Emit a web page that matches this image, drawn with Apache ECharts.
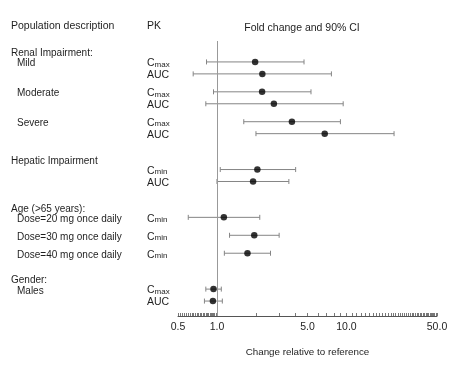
<!DOCTYPE html>
<html>
<head>
<meta charset="utf-8">
<script src="https://cdn.jsdelivr.net/npm/echarts@6/dist/echarts.min.js"></script>
<style>
html,body{margin:0;padding:0;background:#fff;}
#main{width:463px;height:365px;}
</style>
</head>
<body>
<div id="main"></div>
<script>
// ---- data ----
const groupNames = ['Renal Impairment:', 'Hepatic Impairment', 'Age (>65 years):', 'Gender:'];
const rowGroup = [0, 0, 0, 0, 0, 0, 1, 1, 2, 2, 2, 3, 3];
const rowSubject = ['Mild', '', 'Moderate', '', 'Severe', '', '', '', 'Dose=20 mg once daily', 'Dose=30 mg once daily', 'Dose=40 mg once daily', 'Males', ''];
const pkParams = ['Cmax', 'AUC', 'Cmax', 'AUC', 'Cmax', 'AUC', 'Cmin', 'AUC', 'Cmin', 'Cmin', 'Cmin', 'Cmax', 'AUC'];
const estimate = [1.97, 2.24, 2.23, 2.75, 3.79, 6.79, 2.05, 1.90, 1.13, 1.94, 1.72, 0.94, 0.93];
const ciLower = [0.83, 0.655, 0.94, 0.82, 1.61, 2.0, 1.06, 1.0, 0.60, 1.25, 1.14, 0.82, 0.80];
const ciUpper = [4.7, 7.65, 5.32, 9.43, 8.98, 23.3, 4.05, 3.59, 2.14, 3.02, 2.59, 1.08, 1.10];
const tickLabels = [0.5, 1, 5, 10, 50];
const minorTicks = [0.5,0.52,0.54,0.56,0.58,0.6,0.62,0.64,0.66,0.68,0.7,0.72,0.74,0.76,0.78,0.8,0.82,0.84,0.86,0.88,0.9,0.92,0.94,0.96,0.98,1,
  2,3,4,5,6,7,8,9,10,11,12,13,14,15,16,17,18,19,20,21,22,23,24,25,26,27,28,29,30,31,32,33,34,35,36,37,38,39,40,41,42,43,44,45,46,47,48,49,50];
const headers = ['Population description', 'PK', 'Fold change and 90% CI'];
const axisTitle = 'Change relative to reference';
const refValue = 1;

// ---- build slot categories (layout) ----
const cats = [];
const rowCat = [];
let sp = 0;
function spacer(n){ for(let i=0;i<n;i++){ cats.push('s'+(sp++)); } }
spacer(3);
for (let i = 0; i < pkParams.length; i++) {
  if (i > 0) {
    if (rowGroup[i] !== rowGroup[i-1]) spacer(5);
    else if (rowSubject[i] !== '') spacer(2);
    else spacer(1);
  }
  rowCat.push(cats.length);
  cats.push('r' + i);
}
spacer(2);

const TXT = '#1e1e1e';
const FONT = 'Liberation Sans, Arial, Helvetica, sans-serif';

function pkLabel(name){
  if (name.length > 1 && name[0] === 'C') return '{c|C}{s|' + name.slice(1) + '}';
  return '{c|' + name + '}';
}

const chart = echarts.init(document.getElementById('main'), null, {renderer:'canvas'});

const option = {
  animation: false,
  backgroundColor: '#fff',
  textStyle: {fontFamily: FONT, color: TXT},
  grid: {left: 178, right: 26, top: 41, bottom: 49},
  xAxis: {
    type: 'log', logBase: 10, min: 0.5, max: 50,
    axisLine: {show: true, lineStyle: {color: '#555', width: 1}},
    axisTick: {show: true, inside: true, length: 3, customValues: minorTicks, lineStyle: {color: '#777', width: 1}},
    minorTick: {show: false},
    splitLine: {show: false},
    axisLabel: {customValues: tickLabels, formatter: v => Number(v).toFixed(1), color: TXT, fontSize: 10.5, margin: 6, fontFamily: FONT},
    name: axisTitle, nameLocation: 'middle', nameGap: 31,
    nameTextStyle: {color: TXT, fontSize: 9.8, fontFamily: FONT}
  },
  yAxis: {
    type: 'category', data: cats, inverse: true,
    axisLine: {show: false}, axisTick: {show: false}, splitLine: {show: false},
    axisLabel: {
      interval: 0, align: 'left', margin: 31,
      formatter: v => v[0] === 'r' ? pkLabel(pkParams[+v.slice(1)]) : '',
      rich: {
        c: {fontSize: 10.5, color: TXT, fontFamily: FONT, padding: [3,0,0,0]},
        s: {fontSize: 8, color: TXT, fontFamily: FONT, padding: [5,0,0,0]}
      }
    }
  },
  series: [
    {
      type: 'custom',
      data: pkParams.map((p, i) => [rowCat[i], ciLower[i], ciUpper[i]]),
      encode: {x: [1, 2], y: 0},
      renderItem: function(params, api){
        const c = api.value(0);
        const a = api.coord([api.value(1), c]);
        const b = api.coord([api.value(2), c]);
        const st = {stroke: '#858585', lineWidth: 1};
        const h = 2.5;
        return {type: 'group', children: [
          {type: 'line', shape: {x1: a[0], y1: a[1], x2: b[0], y2: b[1]}, style: st},
          {type: 'line', shape: {x1: a[0], y1: a[1]-h, x2: a[0], y2: a[1]+h}, style: st},
          {type: 'line', shape: {x1: b[0], y1: b[1]-h, x2: b[0], y2: b[1]+h}, style: st}
        ]};
      },
      z: 2
    },
    {
      type: 'scatter',
      data: estimate.map((v, i) => [v, rowCat[i]]),
      symbol: 'circle', symbolSize: 6.5,
      itemStyle: {color: '#000'},
      z: 3,
      markLine: {
        silent: true, symbol: 'none', label: {show: false},
        lineStyle: {color: '#999', width: 1, type: 'solid'},
        data: [{xAxis: refValue}]
      }
    }
  ]
};
chart.setOption(option);

// ---- left column text, positioned from the rows ----
const graphics = [];
function ty(i){ return chart.convertToPixel({yAxisIndex: 0}, 'r' + i); }
graphics.push({type: 'text', left: 11, top: 21, style: {text: headers[0], font: '10.5px ' + FONT, fill: TXT}});
graphics.push({type: 'text', left: 147, top: 21, style: {text: headers[1], font: '10.5px ' + FONT, fill: TXT}});
graphics.push({type: 'text', x: 302, y: 28, style: {text: headers[2], font: '10.5px ' + FONT, fill: TXT, align: 'center', verticalAlign: 'middle'}});
for (let i = 0; i < pkParams.length; i++) {
  const y = ty(i);
  if (i === 0 || rowGroup[i] !== rowGroup[i-1]) {
    graphics.push({type: 'text', x: 11, y: y - 8.5, style: {text: groupNames[rowGroup[i]], font: '10px ' + FONT, fill: TXT, verticalAlign: 'middle'}});
  }
  if (rowSubject[i]) {
    graphics.push({type: 'text', x: 17, y: y + 1.8, style: {text: rowSubject[i], font: '10px ' + FONT, fill: TXT, verticalAlign: 'middle'}});
  }
}
chart.setOption({graphic: graphics});
</script>
</body>
</html>
